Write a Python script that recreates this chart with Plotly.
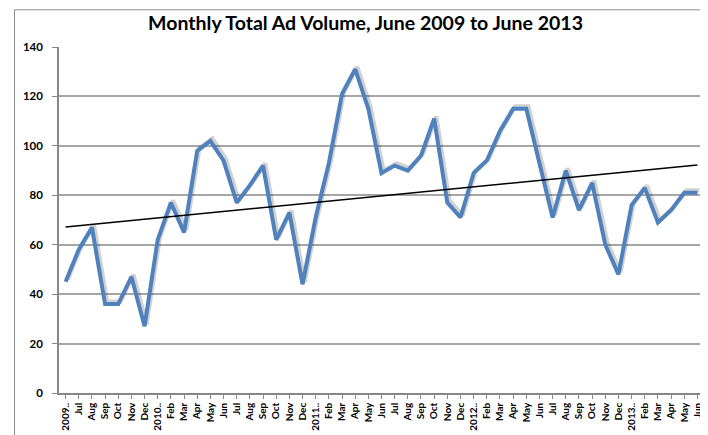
import numpy as np
import plotly.graph_objects as go

months = ["2009..", "Jul", "Aug", "Sep", "Oct", "Nov", "Dec",
          "2010..", "Feb", "Mar", "Apr", "May", "Jun", "Jul", "Aug", "Sep", "Oct", "Nov", "Dec",
          "2011..", "Feb", "Mar", "Apr", "May", "Jun", "Jul", "Aug", "Sep", "Oct", "Nov", "Dec",
          "2012..", "Feb", "Mar", "Apr", "May", "Jun", "Jul", "Aug", "Sep", "Oct", "Nov", "Dec",
          "2013..", "Feb", "Mar", "Apr", "May", "Jun"]
ad_volume = [45, 58, 67, 36, 36, 47, 27,
             62, 77, 65, 98, 102, 94, 77, 84, 92, 62, 73, 44,
             71, 93, 121, 131, 115, 89, 92, 90, 96, 111, 77, 71,
             89, 94, 106, 115, 115, 93, 71, 90, 74, 85, 60, 48,
             76, 83, 69, 74, 81, 81]
y_ticks = [0, 20, 40, 60, 80, 100, 120, 140]

idx = np.arange(len(ad_volume))
slope, intercept = np.polyfit(idx, ad_volume, 1)
trend = slope * idx + intercept

pos = list(range(len(months)))
n = len(months)

fig = go.Figure()
# soft shadow under main line (same data, slightly offset axes)
fig.add_trace(go.Scatter(x=pos, y=ad_volume, mode="lines", xaxis="x2", yaxis="y2",
                         line=dict(color="rgba(0,0,0,0.18)", width=4.5),
                         hoverinfo="skip", showlegend=False))
fig.add_trace(go.Scatter(x=pos, y=ad_volume, mode="lines", xaxis="x3", yaxis="y3",
                         line=dict(color="#4F81BD", width=4), showlegend=False))
fig.add_trace(go.Scatter(x=pos, y=trend, mode="lines", xaxis="x3", yaxis="y3",
                         line=dict(color="#000000", width=1.5), showlegend=False))
# invisible trace on primary axes so they render
fig.add_trace(go.Scatter(x=pos, y=ad_volume, mode="lines", line=dict(width=0),
                         hoverinfo="skip", showlegend=False, opacity=0))

font_family = "Lato, 'Open Sans', sans-serif"
fig.update_layout(
    width=708, height=435,
    margin=dict(l=51, r=12, t=39, b=47),
    paper_bgcolor="white", plot_bgcolor="white",
    title=dict(text="<b>Monthly Total Ad Volume, June 2009 to June 2013</b>",
               x=0.505, xref="container", xanchor="center",
               y=1 - 8 / 435, yref="container", yanchor="top",
               font=dict(family=font_family, size=19.5, color="#000000")),
    xaxis=dict(range=[-0.5, n - 0.5], tickmode="array", tickvals=pos, ticktext=months,
               tickangle=-90, ticks="outside", ticklen=4, tickcolor="#888888",
               showgrid=False, showline=True, linecolor="#888888", linewidth=1.5,
               tickfont=dict(family=font_family, size=10, color="#000000", weight="bold"),
               zeroline=False),
    yaxis=dict(range=[0, 140], tickvals=y_ticks, ticks="outside", ticklen=5,
               tickcolor="#888888", showline=True, linecolor="#888888", linewidth=1.5,
               showgrid=True, gridcolor="#A6A6A6", gridwidth=1.5, zeroline=False,
               ticklabelstandoff=7,
               tickfont=dict(family=font_family, size=11.5, color="#000000", weight="bold")),
    xaxis2=dict(range=[-0.5 - 0.15, n - 0.5 - 0.15], overlaying="x", visible=False),
    yaxis2=dict(range=[-0.9, 140 - 0.9], overlaying="y", visible=False),
    xaxis3=dict(range=[-0.5, n - 0.5], overlaying="x", visible=False),
    yaxis3=dict(range=[0, 140], overlaying="y", visible=False),
    shapes=[dict(type="rect", xref="paper", yref="paper",
                 x0=(6.5 - 51) / 645, x1=(706.0 - 51) / 645,
                 y0=(388 - 432.5) / 349, y1=(388 - 1.5) / 349,
                 line=dict(color="#8C8C8C", width=1), fillcolor="rgba(0,0,0,0)",
                 layer="above")],
)

fig.write_html("out.html")
